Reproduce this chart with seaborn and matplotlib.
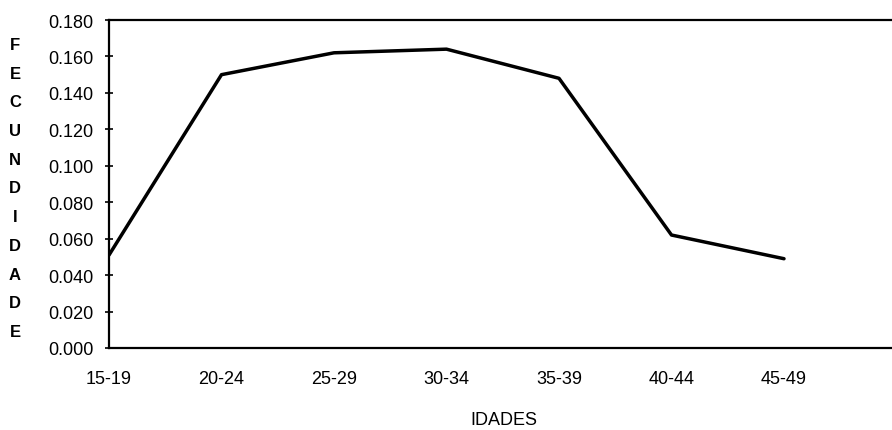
import matplotlib
matplotlib.use("Agg")
import matplotlib.pyplot as plt
import seaborn as sns
import pandas as pd

# Data
categories = ["15-19", "20-24", "25-29", "30-34", "35-39", "40-44", "45-49"]
fecundidade = [0.051, 0.150, 0.162, 0.164, 0.148, 0.062, 0.049]
y_ticks = [0.000, 0.020, 0.040, 0.060, 0.080, 0.100, 0.120, 0.140, 0.160, 0.180]
y_label_letters = list("FECUNDIDADE")
x_title = "IDADES"

sns.set_theme(style="white")
plt.rcParams["font.family"] = ["Liberation Sans", "DejaVu Sans"]

df = pd.DataFrame({"idade": categories, "fec": fecundidade})

W, H = 892, 431
fig = plt.figure(figsize=(W / 100, H / 100), dpi=100)
left, right, top, bottom = 109, 892, 21, 349
ax = fig.add_axes([left / W, 1 - bottom / H, (right - left) / W, (bottom - top) / H])

sns.lineplot(data=df, x="idade", y="fec", ax=ax, color="black", linewidth=2.5, sort=False)

ax.set_xlim(0, 6.96)
ax.set_ylim(0, 0.18)
ax.set_yticks(y_ticks)
ax.set_yticklabels([f"{v:.3f}" for v in y_ticks])
ax.tick_params(axis="y", direction="inout", length=6, width=1.2, color="black",
               pad=8, labelsize=13, labelcolor="black", left=True)
ax.tick_params(axis="x", length=0, pad=16, labelsize=13, labelcolor="black")

for side in ["left", "bottom", "top"]:
    ax.spines[side].set_visible(True)
    ax.spines[side].set_color("black")
    ax.spines[side].set_linewidth(1.6)
ax.spines["right"].set_visible(False)

ax.set_xlabel("")
ax.set_ylabel("\n".join(y_label_letters), rotation=0, fontsize=12, fontweight="bold",
              linespacing=2.14, va="center", ha="center", color="black")
ax.yaxis.set_label_coords((15 - left) / (right - left), (bottom - 189) / (bottom - top))

fig.text(504 / W, 1 - 421 / H, x_title, ha="center", va="center", fontsize=13, color="black")

fig.savefig("out.png", dpi=100)
